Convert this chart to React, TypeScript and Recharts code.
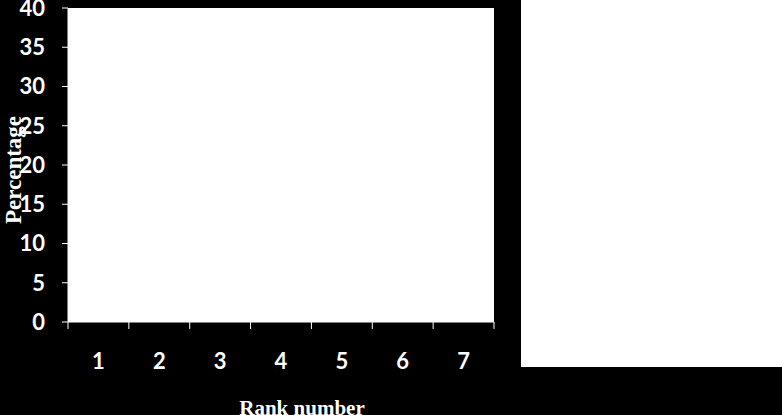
import React from 'react';
import { ComposedChart, Bar, XAxis, YAxis, CartesianGrid } from 'recharts';

const ranks = ['1', '2', '3', '4', '5', '6', '7'];
const percentages = [0, 0, 0, 0, 0, 0, 0];
const yTicks = [0, 5, 10, 15, 20, 25, 30, 35, 40];

const data = ranks.map((r, i) => ({ rank: r, value: percentages[i] }));

const sans = 'Lato, "Open Sans", sans-serif';
const serif = '"Liberation Serif", "Times New Roman", serif';

const RankTick = (props: any) => {
  const { x, y, payload, index, width, visibleTicksCount } = props;
  const half = width / visibleTicksCount / 2;
  return (
    <g>
      <line x1={x - half} x2={x - half} y1={y} y2={y + 7} stroke="#fff" strokeWidth={1} />
      {index === visibleTicksCount - 1 && (
        <line x1={x + half} x2={x + half} y1={y} y2={y + 7} stroke="#fff" strokeWidth={1} />
      )}
      <text x={x} y={y + 38} textAnchor="middle" dominantBaseline="central" fill="#fff" fontFamily={sans} fontWeight={700} fontSize={22}>
        {payload.value}
      </text>
    </g>
  );
};

export default function App() {
  return (
    <div style={{ position: 'absolute', left: 0, top: 0, width: 782, height: 415, background: '#000', overflow: 'hidden' }}>
      <ComposedChart width={782} height={415} data={data} margin={{ top: 8, right: 288, bottom: 0, left: 0 }}>
        <CartesianGrid fill="#fff" horizontal={false} vertical={false} stroke="none" />
        <XAxis
          dataKey="rank"
          axisLine={{ stroke: '#fff' }}
          tickLine={false}
          tickSize={0}
          tickMargin={0}
          interval={0}
          height={93}
          tick={<RankTick />}
          label={{
            content: (p: any) => {
              const vb = p.viewBox;
              return (
                <text x={vb.x + vb.width / 2 + 21} y={415} textAnchor="middle" fill="#fff" fontFamily={serif} fontWeight={700} fontSize={21}>
                  Rank number
                </text>
              );
            },
          }}
        />
        <YAxis
          width={68}
          domain={[0, 40]}
          ticks={yTicks}
          interval={0}
          tickSize={6}
          tickMargin={17}
          axisLine={{ stroke: '#fff' }}
          tickLine={{ stroke: '#fff' }}
          tick={{ fill: '#fff', fontFamily: sans, fontWeight: 700, fontSize: 22 }}
          label={{
            content: (p: any) => {
              const vb = p.viewBox;
              const cx = vb.x + 13;
              const cy = vb.y + vb.height / 2 + 5;
              return (
                <text x={cx} y={cy} transform={`rotate(-90 ${cx} ${cy})`} textAnchor="middle" dominantBaseline="central" fill="#fff" fontFamily={serif} fontWeight={700} fontSize={23}>
                  Percentage
                </text>
              );
            },
          }}
        />
        <Bar dataKey="value" fill="#fff" isAnimationActive={false} />
      </ComposedChart>
      <div style={{ position: 'absolute', left: 521, top: 0, width: 261, height: 367, background: '#fff' }} />
    </div>
  );
}
